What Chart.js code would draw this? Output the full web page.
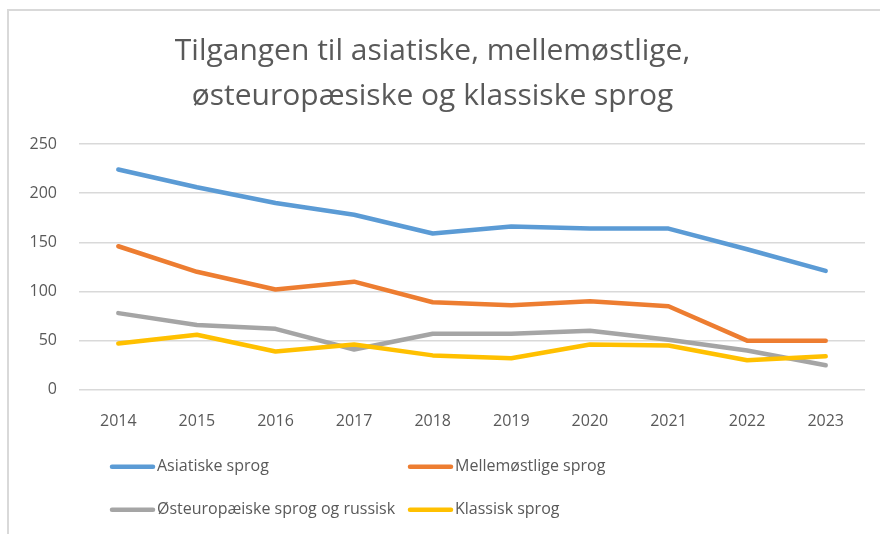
<!DOCTYPE html>
<html lang="da">

<head>
  <meta charset="UTF-8" />
  <title>Tilgangen til sprog</title>
  <style>
    html, body { margin: 0; padding: 0; background: #fff; }
    #wrap { width: 880px; height: 534px; position: relative; }
  </style>
</head>

<body>
  <div id="wrap">
    <canvas id="chart" width="880" height="534"></canvas>
  </div>

  <script src="https://cdn.jsdelivr.net/npm/chart.js@4.4.1/dist/chart.umd.min.js"></script>
  <script>
    // data læst af billedet
    const years = ["2014", "2015", "2016", "2017", "2018", "2019", "2020", "2021", "2022", "2023"];
    const asiatiske = [224, 206, 190, 178, 159, 166, 164, 164, 143, 121];
    const mellemoestlige = [146, 120, 102, 110, 89, 86, 90, 85, 50, 50];
    const oesteuropaeiske = [78, 66, 62, 41, 57, 57, 60, 51, 40, 25];
    const klassisk = [47, 56, 39, 46, 35, 32, 46, 45, 30, 34];
    const seriesNames = ["Asiatiske sprog", "Mellemøstlige sprog", "Østeuropæiske sprog og russisk", "Klassisk sprog"];
    const colors = ["#5B9BD5", "#ED7D31", "#A5A5A5", "#FFC000"];
    const yTicks = [0, 50, 100, 150, 200, 250];

    const textColor = "#595959";
    const fontFamily = "'Open Sans', 'Noto Sans', sans-serif";

    // ramme + legend tegnes selv, så de står i to kolonner som i Excel
    const frameAndLegend = {
      id: "frameAndLegend",
      beforeDraw(chart) {
        const ctx = chart.ctx;
        ctx.save();
        ctx.strokeStyle = "#d9d9d9";
        ctx.lineWidth = 2;
        ctx.beginPath();
        ctx.moveTo(8, chart.height);
        ctx.lineTo(8, 10);
        ctx.lineTo(chart.width, 10);
        ctx.stroke();
        ctx.restore();
      },
      afterDraw(chart) {
        const ctx = chart.ctx;
        const area = chart.chartArea;
        const cols = [area.left + 33, area.left + 331];
        const rows = [area.bottom + 77, area.bottom + 120];
        ctx.save();
        ctx.font = "16px " + fontFamily;
        ctx.textBaseline = "middle";
        ctx.fillStyle = textColor;
        chart.data.datasets.forEach((ds, i) => {
          const x = cols[i % 2];
          const y = rows[Math.floor(i / 2)];
          ctx.strokeStyle = ds.borderColor;
          ctx.lineWidth = 4.5;
          ctx.lineCap = "round";
          ctx.beginPath();
          ctx.moveTo(x, y);
          ctx.lineTo(x + 41, y);
          ctx.stroke();
          ctx.fillText(ds.label, x + 45, y);
        });
        ctx.restore();
      }
    };

    const seriesData = [asiatiske, mellemoestlige, oesteuropaeiske, klassisk];

    const ctx = document.getElementById("chart").getContext("2d");
    const myChart = new Chart(ctx, {
      type: "line",
      data: {
        labels: years,
        datasets: seriesData.map((vals, i) => ({
          label: seriesNames[i],
          data: vals,
          borderColor: colors[i],
          backgroundColor: colors[i],
          borderWidth: 4.5,
          borderCapStyle: "round",
          borderJoinStyle: "round",
          pointRadius: 0,
          tension: 0,
          order: 4 - i,
        })),
      },
      options: {
        responsive: false,
        animation: false,
        layout: {
          padding: { left: 0, right: 15, top: 0, bottom: 89 },
        },
        plugins: {
          legend: { display: false },
          tooltip: { enabled: false },
          title: {
            display: true,
            text: ["Tilgangen til asiatiske, mellemøstlige,", "østeuropæsiske og klassiske sprog"],
            color: textColor,
            font: { family: fontFamily, size: 30, weight: "normal", lineHeight: 1.5 },
            padding: { top: 29, bottom: 25 },
          },
        },
        scales: {
          x: {
            offset: true,
            grid: { display: false },
            border: { display: false },
            ticks: {
              color: textColor,
              font: { family: fontFamily, size: 16 },
              padding: 14,
              maxRotation: 0,
            },
          },
          y: {
            min: 0,
            max: 250,
            afterBuildTicks: (scale) => {
              scale.ticks = yTicks.map((v) => ({ value: v }));
            },
            afterFit: (scale) => {
              scale.width = 79;
            },
            grid: { color: "#d9d9d9", lineWidth: 1.5, drawTicks: false },
            border: { display: false },
            ticks: {
              color: textColor,
              font: { family: fontFamily, size: 16 },
              padding: 22,
            },
          },
        },
      },
      plugins: [frameAndLegend],
    });
  </script>
</body>

</html>
